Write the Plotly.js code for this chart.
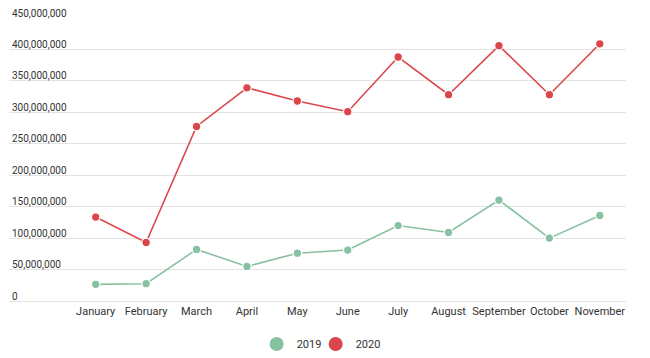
<!DOCTYPE html>
<html>
<head>
<meta charset="utf-8">
<script src="https://cdn.plot.ly/plotly-3.0.1.min.js"></script>
<style>html,body{margin:0;padding:0;background:#fff;}#chart{width:650px;height:358px;}</style>
</head>
<body>
<div id="chart"></div>
<script>
const months = ["January","February","March","April","May","June","July","August","September","October","November"];
const sales2019 = [26.5e6, 27.5e6, 82e6, 55e6, 76e6, 81e6, 120e6, 109e6, 160.5e6, 100e6, 136e6];
const sales2020 = [133.5e6, 93e6, 277.5e6, 339e6, 318e6, 301e6, 388e6, 328e6, 406e6, 328e6, 409e6];
const seriesNames = ["2019", "2020"];
const colors = ["#88c1a2", "#da4649"];

const font = "Roboto, 'Noto Sans', sans-serif";
const traces = [];
[sales2019, sales2020].forEach((vals, i) => {
  traces.push({
    x: months, y: vals, type: "scatter", mode: "lines+markers",
    name: seriesNames[i], showlegend: false, hoverinfo: "skip",
    line: {color: colors[i], width: 1.6},
    marker: {color: colors[i], size: 8.5, line: {color: "#fff", width: 1.2}}
  });
});
seriesNames.forEach((n, i) => {
  traces.push({
    x: [null], y: [null], type: "scatter", mode: "markers", name: n,
    marker: {color: colors[i], size: 14}
  });
});
// spacer entry so the last legend label is not clipped
traces.push({x: [null], y: [null], type: "scatter", mode: "markers", name: " ",
  marker: {color: "rgba(0,0,0,0)", size: 1}});

const layout = {
  width: 650, height: 358,
  margin: {l: 9, r: 24, t: 18, b: 57},
  paper_bgcolor: "#fff", plot_bgcolor: "#fff",
  font: {family: font, size: 11, color: "#333"},
  xaxis: {
    type: "category", range: [-1.72, 10.52],
    showgrid: false, zeroline: false, showline: false, ticks: "",
    ticklabelstandoff: 2,
    tickfont: {family: font, size: 11, color: "#333"}
  },
  yaxis: {
    range: [0, 450e6], dtick: 50e6, tick0: 0, tickformat: ",d",
    showgrid: true, gridcolor: "#e3e3e3", gridwidth: 1,
    zeroline: true, zerolinecolor: "#e3e3e3", zerolinewidth: 1,
    showline: false, ticks: "",
    ticklabelposition: "inside", ticklabelshift: -5, ticklabelstandoff: 0,
    ticklabeloverflow: "allow",
    tickfont: {family: font, size: 10, color: "#333"}
  },
  legend: {
    orientation: "h", x: 0.531, xanchor: "center", xref: "container",
    y: 0.039, yanchor: "middle", yref: "container",
    font: {family: font, size: 11, color: "#333"},
    itemwidth: 30, entrywidth: 14, entrywidthmode: "pixels"
  },
  showlegend: true
};
Plotly.newPlot("chart", traces, layout, {staticPlot: true, displayModeBar: false});
</script>
</body>
</html>
